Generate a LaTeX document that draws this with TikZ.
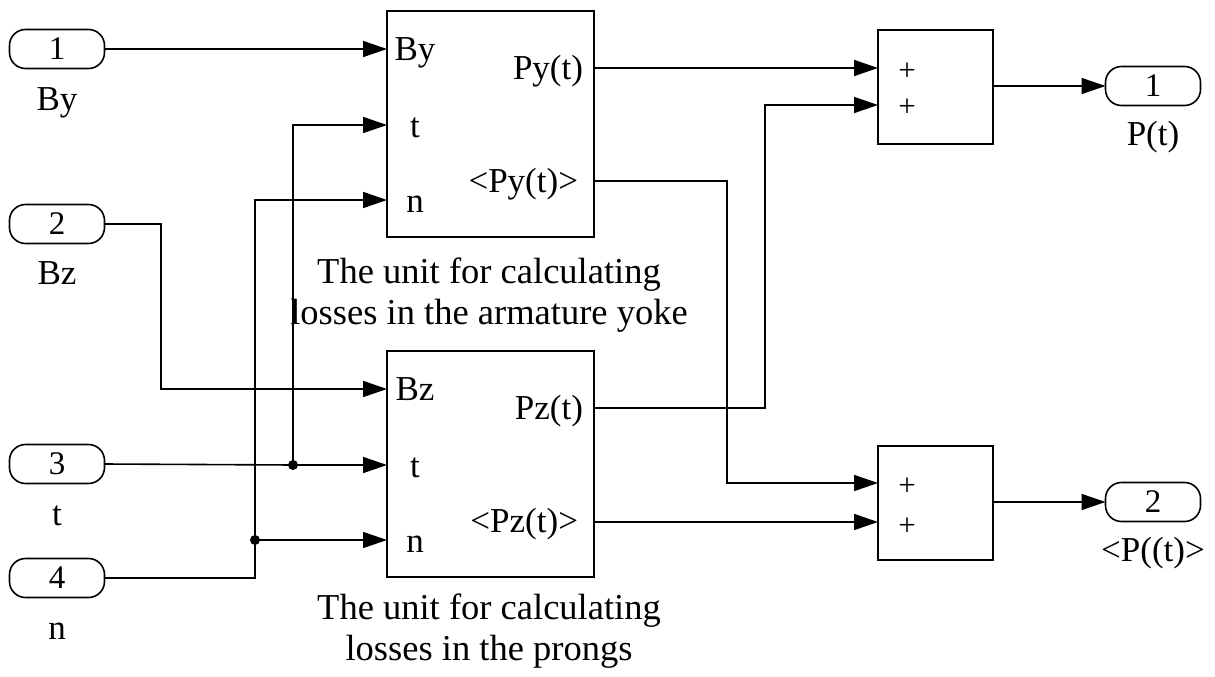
\documentclass[tikz,border=0pt]{standalone}
\usepackage{fontspec}
\setmainfont{Liberation Serif}
\usetikzlibrary{arrows.meta}
\begin{document}
\begin{tikzpicture}[x=1pt,y=-1pt,line width=1.6pt,
  every node/.style={inner sep=0pt,outer sep=0pt,font=\fontsize{35}{42}\selectfont},
  caption/.style={anchor=base,font=\fontsize{36.5}{44}\selectfont},
  blk/.style={draw,line width=1.8pt},
  bigblk/.style={blk,minimum width=207pt,minimum height=226pt},
  sumblk/.style={blk,minimum width=115pt,minimum height=114pt},
  port/.style={draw,rounded corners=16pt,minimum width=95pt,minimum height=39pt,line width=1.6pt,font=\fontsize{33}{40}\selectfont},
  plus/.style={font=\fontsize{31}{37}\selectfont},
  arr/.style={-{Triangle[length=24pt,width=16pt]}},
  jn/.style={circle,fill,minimum size=10pt}]
\useasboundingbox (0,0) rectangle (1215,677);
% input ports
\node[port] (I1) at (57,49) {1};
\node[port] (I2) at (57,224) {2};
\node[port] (I3) at (57,464) {3};
\node[port] (I4) at (57,578) {4};
\node[anchor=base] (LI1) at (57,110) {By};
\node[anchor=base] (LI2) at (57,284) {Bz};
\node[anchor=base] (LI3) at (57,525) {t};
\node[anchor=base] (LI4) at (57,639) {n};
% output ports
\node[port] (O1) at (1153,86) {1};
\node[port] (O2) at (1153,502) {2};
\node[anchor=base] (LO1) at (1153,145) {P(t)};
\node[anchor=base] (LO2) at (1153,561) {<P((t)>};
% blocks
\node[bigblk] (U) at (490.5,124) {};
\node[bigblk] (D) at (490.5,464) {};
\node[sumblk] (S1) at (935.5,87) {};
\node[sumblk] (S2) at (935.5,503) {};
% block texts
\node[anchor=base] (UtB) at (415,60) {By};
\node[anchor=base] (Utt) at (415,137) {t};
\node[anchor=base] (Utn) at (415,212) {n};
\node[anchor=base east] (UtP) at (583,79) {Py(t)};
\node[anchor=base east] (UtQ) at (578,192) {<Py(t)>};
\node[anchor=base] (DtB) at (415,400) {Bz};
\node[anchor=base] (Dtt) at (415,477) {t};
\node[anchor=base] (Dtn) at (415,552) {n};
\node[anchor=base east] (DtP) at (583,419) {Pz(t)};
\node[anchor=base east] (DtQ) at (578,532) {<Pz(t)>};
\node[plus] (S1a) at (907,72) {+};
\node[plus] (S1b) at (907,108) {+};
\node[plus] (S2a) at (907,487) {+};
\node[plus] (S2b) at (907,527) {+};
% captions
\node[caption] (CU1) at (489,283) {The unit for calculating};
\node[caption] (CU2) at (489,324) {losses in the armature yoke};
\node[caption] (CD1) at (489,619) {The unit for calculating};
\node[caption] (CD2) at (489,660) {losses in the prongs};
% port coordinates
\coordinate (UinB) at (387,49);
\coordinate (Uint) at (387,125);
\coordinate (Uinn) at (387,200);
\coordinate (UoutP) at (594,68);
\coordinate (UoutQ) at (594,181);
\coordinate (DinB) at (387,389);
\coordinate (Dint) at (387,465);
\coordinate (Dinn) at (387,540);
\coordinate (DoutP) at (594,408);
\coordinate (DoutQ) at (594,522);
\coordinate (S1in1) at (878,68);
\coordinate (S1in2) at (878,105);
\coordinate (S1out) at (993,86);
\coordinate (S2in1) at (878,483);
\coordinate (S2in2) at (878,522);
\coordinate (S2out) at (993,502);
\node[jn] (J3) at (293,465) {};
\node[jn] (J4) at (255,540) {};
% connectors
\draw[arr] (I1.east) -- (UinB);
\draw[arr] (I2.east) -- (161,224) -- (161,389) -- (DinB);
\draw[arr] (I3.east) -- (J3.center) -- (Dint);
\draw[arr] (J3.center) -- (293,125) -- (Uint);
\draw (I4.east) -- (255,578) -- (J4.center);
\draw[arr] (J4.center) -- (255,200) -- (Uinn);
\draw[arr] (J4.center) -- (Dinn);
\draw[arr] (UoutP) -- (S1in1);
\draw[arr] (UoutQ) -- (727,181) -- (727,483) -- (S2in1);
\draw[arr] (DoutP) -- (765,408) -- (765,105) -- (S1in2);
\draw[arr] (DoutQ) -- (S2in2);
\draw[arr] (S1out) -- (O1.west);
\draw[arr] (S2out) -- (O2.west);
\end{tikzpicture}
\end{document}
